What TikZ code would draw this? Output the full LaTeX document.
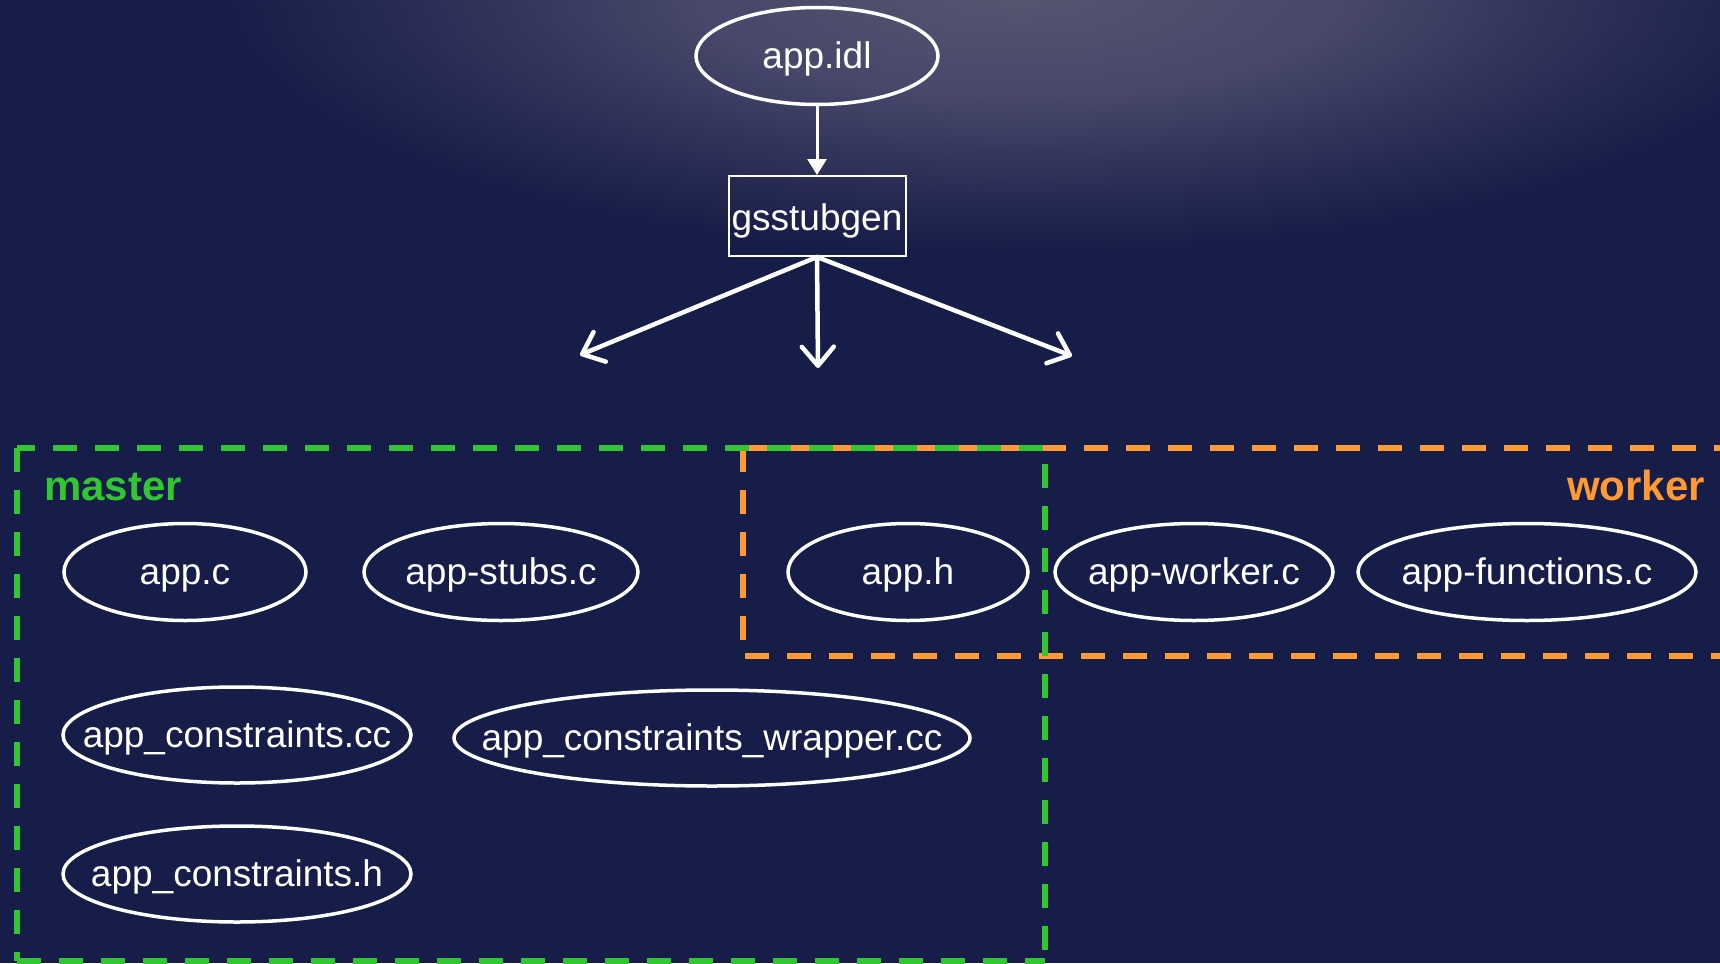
\documentclass[tikz,border=0pt]{standalone}
\usepackage{fontspec}
\setmainfont{Liberation Sans}
\usetikzlibrary{arrows.meta,shapes.geometric}
\definecolor{bgc}{HTML}{161D48}
\definecolor{glowA}{HTML}{55566F}
\definecolor{glowB}{HTML}{47486A}
\definecolor{glowC}{HTML}{2E3158}
\definecolor{mgreen}{HTML}{33C633}
\definecolor{worange}{HTML}{FF9933}
\pgfdeclareradialshading{topglow}{\pgfpoint{0bp}{0bp}}{color(0bp)=(glowA); color(8bp)=(glowB); color(14bp)=(glowC); color(20bp)=(bgc); color(25bp)=(bgc); color(50bp)=(bgc)}
\newcommand\fname[1]{\makebox[0pt]{#1}}
\begin{document}
\begin{tikzpicture}[x=1pt,y=-1pt,
  file/.style={ellipse, draw=white, line width=3.5pt, text=white, inner sep=0pt,
    minimum height=97pt, font=\fontsize{37}{44}\selectfont, text height=25pt, text depth=0pt},
  tool/.style={rectangle, draw=white, line width=2pt, text=white, inner sep=0pt,
    minimum width=177pt, minimum height=80pt, font=\fontsize{37}{44}\selectfont,
    text height=28pt, text depth=0pt},
  feed/.style={white, line width=3pt, -{Triangle[length=16pt,width=19pt]}},
  fan/.style={white, line width=4.5pt, line cap=round, -{Straight Barb[length=19pt,width=32pt,round]}},
  grp/.style={line width=5.5pt, dash pattern=on 24pt off 18pt},
  grplabel/.style={font=\fontsize{42}{50}\selectfont\bfseries, inner sep=0pt}
]
\useasboundingbox (0,0) rectangle (1720,963);
\fill[bgc] (0,0) rectangle (1720,963);
\begin{scope}
  \clip (0,0) rectangle (1720,963);
  \shade[shading=topglow] (1020,-10) ellipse [x radius=1000, y radius=330];
\end{scope}

% top part
\node[file, minimum width=242pt] (idl) at (817,56) {\fname{app.idl}};
\node[tool] (gs) at (817,216) {gsstubgen};
\draw[feed] (idl.south) -- (gs.north);
\coordinate (tl) at (580,355);
\coordinate (tm) at (818,368);
\coordinate (tr) at (1072,356);
\draw[fan] (gs.south) -- (tl);
\draw[fan] (gs.south) -- (tm);
\draw[fan] (gs.south) -- (tr);

% worker group (orange)
\draw[grp, worange, dash phase=37pt] (743,448) -- (1740,448);
\draw[grp, worange] (743,448) -- (743,656);
\draw[grp, worange, dash phase=40pt] (743,656) -- (1740,656);
% master group (green)
\draw[grp, mgreen, dash phase=6pt] (17,448) -- (1045,448);
\draw[grp, mgreen] (17,448) -- (17,961);
\draw[grp, mgreen, dash phase=26pt] (1045,448) -- (1045,961);
\draw[grp, mgreen] (17,961) -- (1045,961);

\node[grplabel, text=mgreen, anchor=base west] (mlab) at (44,500) {master};
\node[grplabel, text=worange, anchor=base east] (wlab) at (1705,500) {worker};

% files
\node[file, minimum width=242pt] (appc) at (185,572) {\fname{app.c}};
\node[file, minimum width=274pt] (stubs) at (501,572) {\fname{app-stubs.c}};
\node[file, minimum width=240pt] (apph) at (908,572) {\fname{app.h}};
\node[file, minimum width=278pt] (wrk) at (1194,572) {\fname{app-worker.c}};
\node[file, minimum width=338pt] (funcs) at (1527,572) {\fname{app-functions.c}};
\node[file, minimum width=348pt, minimum height=96pt] (cons) at (237,735) {\fname{app\_constraints.cc}};
\node[file, minimum width=516pt, minimum height=96pt] (wrap) at (712,738) {\fname{app\_constraints\_wrapper.cc}};
\node[file, minimum width=348pt, minimum height=96pt] (consh) at (237,874) {\fname{app\_constraints.h}};
\end{tikzpicture}
\end{document}
